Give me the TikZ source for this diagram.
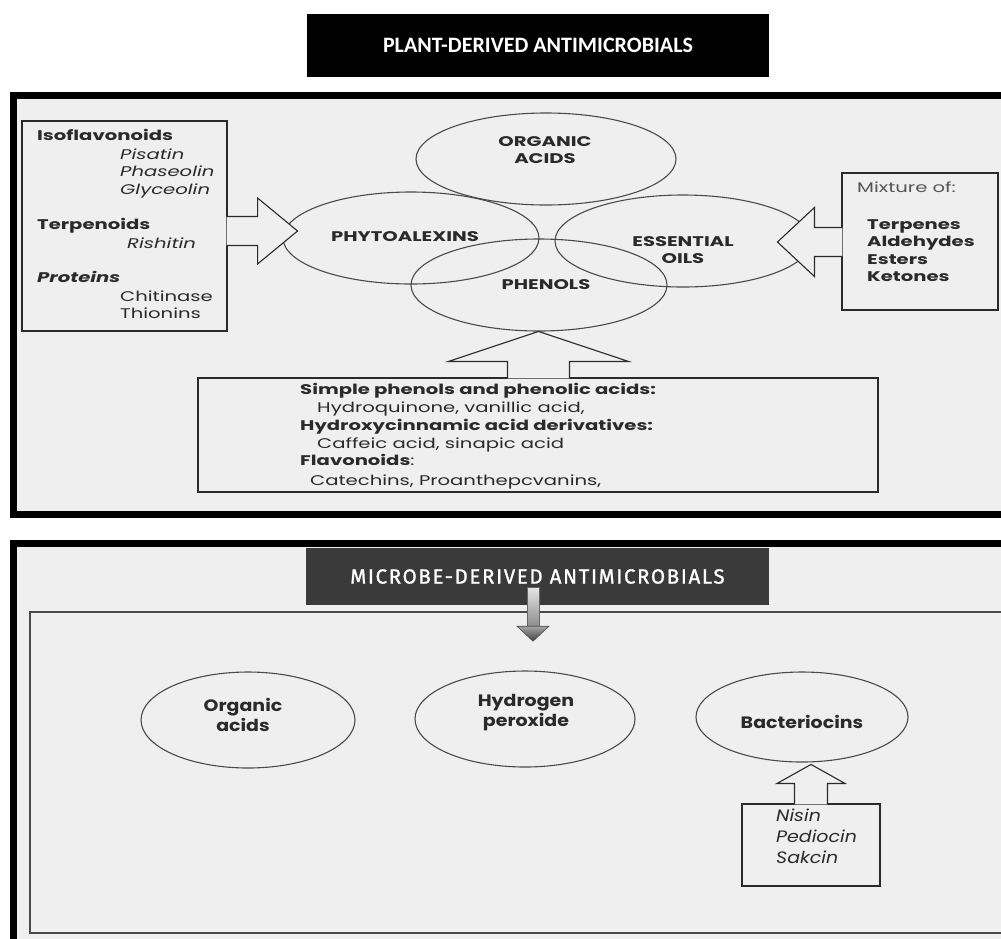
\documentclass[tikz,border=0pt]{standalone}
\usepackage{fontspec}
\usetikzlibrary{shapes.geometric,calc}
\newfontfamily\popA[FakeStretch=1.4]{Poppins}
\newfontfamily\popB[FakeStretch=1.15]{Poppins}
\newfontfamily\hdA{Carlito}
\newfontfamily\hdB[LetterSpace=8,FakeBold=1.2]{Fira Sans}
\definecolor{bgc}{HTML}{EFEFEF}
\definecolor{ink}{HTML}{2A2A2A}
\definecolor{lin}{HTML}{4A4A4A}
\definecolor{hdrgray}{HTML}{3A3A3A}
\definecolor{soft}{HTML}{555555}
\tikzset{
  thickframe/.style={draw=black, line width=7pt, fill=bgc},
  ell/.style={draw=lin, line width=1.1pt, ellipse, inner sep=0pt},
  boxst/.style={draw=ink, line width=1.1pt, fill=bgc, inner sep=0pt},
  arrowst/.style={draw=ink, line width=1.1pt, fill=bgc, line join=miter},
  ptxt/.style={inner sep=0pt, text=ink, font=\popA\fontsize{14}{17}\selectfont},
  ptxtb/.style={ptxt, font=\popA\bfseries\fontsize{14}{17}\selectfont},
  etxt/.style={inner sep=0pt, text=ink, align=center, font=\popA\bfseries\fontsize{14}{17}\selectfont},
  mtxt/.style={inner sep=0pt, text=ink, align=center, font=\popB\bfseries\fontsize{16.5}{20}\selectfont},
  mtxti/.style={inner sep=0pt, text=ink, font=\popB\itshape\fontsize{16.5}{20}\selectfont}
}
\begin{document}
\begin{tikzpicture}[x=1pt,y=-1pt]
\useasboundingbox (0,0) rectangle (1001,938);
\clip (0,0) rectangle (1001,938);
\fill[white] (0,0) rectangle (1001,938);

% ---------- plant header ----------
\node[fill=black, minimum width=462pt, minimum height=63pt, inner sep=0pt,
      text=white, font=\hdA\bfseries\fontsize{22}{26}\selectfont] (hdr1) at (538,45.5) {PLANT-DERIVED ANTIMICROBIALS};

% ---------- plant frame ----------
\draw[thickframe] (13.5,95.5) rectangle (1015,514.5);

% ellipses
\node[ell, minimum width=260pt, minimum height=92pt] (org) at (546,159) {};
\node[ell, minimum width=256pt, minimum height=92pt] (phy) at (411,238) {};
\node[ell, minimum width=256pt, minimum height=92pt] (phe) at (539,285) {};
\node[ell, minimum width=256pt, minimum height=92pt] (ess) at (683,241) {};

\node[etxt] (orgT) at (545,150.5) {ORGANIC\\ACIDS};
\node[etxt] (phyT) at (405,237) {PHYTOALEXINS};
\node[etxt] (pheT) at (546,285) {PHENOLS};
\node[etxt] (essT) at (683,250) {ESSENTIAL\\OILS};

% left box
\node[boxst, minimum width=205pt, minimum height=210pt] (lbox) at (124.5,226) {};
\draw[arrowst] ($(lbox.east)+(-1,-9.5)$) -- ++(31,0) -- ++(0,-18.5) -- ++(40,33) -- ++(-40,33) -- ++(0,-18.5) -- ++(-31,0);
\node[ptxtb, anchor=mid west] (iso) at (37,138) {Isoflavonoids};
\node[ptxt, anchor=mid west] (pis) at (120,157) {\itshape Pisatin};
\node[ptxt, anchor=mid west] (pha) at (120,174) {\itshape Phaseolin};
\node[ptxt, anchor=mid west] (gly) at (120,192) {\itshape Glyceolin};
\node[ptxtb, anchor=mid west] (ter) at (37,227) {Terpenoids};
\node[ptxt, anchor=mid west] (ris) at (127,246) {\itshape Rishitin};
\node[ptxtb, anchor=mid west] (pro) at (37,280) {\itshape Proteins};
\node[ptxt, anchor=mid west] (chi) at (120,299) {Chitinase};
\node[ptxt, anchor=mid west] (thi) at (120,316) {Thionins};

% right box
\node[boxst, minimum width=156pt, minimum height=137pt] (rbox) at (920,241.5) {};
\draw[arrowst] ($(rbox.west)+(1,-14)$) -- ++(-28,0) -- ++(0,-20) -- ++(-37,34.5) -- ++(37,34.5) -- ++(0,-20) -- ++(28,0);
\node[ptxt, anchor=mid west, text=soft] (mix) at (857,190) {Mixture of:};
\node[ptxtb, anchor=mid west] (tpn) at (867,227) {Terpenes};
\node[ptxtb, anchor=mid west] (ald) at (867,244) {Aldehydes};
\node[ptxtb, anchor=mid west] (est) at (867,262) {Esters};
\node[ptxtb, anchor=mid west] (ket) at (867,279) {Ketones};

% phenols box
\node[boxst, minimum width=680pt, minimum height=114pt] (pbox) at (538,435) {};
\draw[arrowst] ($(pbox.north)+(-30.5,1)$) -- ++(0,-17) -- ++(-59,0) -- ++(90,-30) -- ++(90,30) -- ++(-59,0) -- ++(0,17);
\node[ptxtb, anchor=mid west] (sp) at (300,392) {Simple phenols and phenolic acids:};
\node[ptxt, anchor=mid west] (hq) at (317,410) {Hydroquinone, vanillic acid,};
\node[ptxtb, anchor=mid west] (hc) at (300,428) {Hydroxycinnamic acid derivatives:};
\node[ptxt, anchor=mid west] (ca) at (317,446) {Caffeic acid, sinapic acid};
\node[ptxt, anchor=mid west] (fl) at (300,463) {\bfseries Flavonoids\mdseries:};
\node[ptxt, anchor=mid west] (ct) at (310,483) {Catechins, Proanthepcvanins,};

% ---------- microbe frame ----------
\draw[thickframe] (13.5,543.5) rectangle (1015,960);
\draw[draw=lin, line width=1.1pt] (30,612) rectangle (1015,933);

\node[fill=hdrgray, minimum width=463pt, minimum height=57pt, inner sep=0pt,
      text=white, font=\hdB\fontsize{20.5}{24}\selectfont] (hdr2) at (537.5,576.5) {MICROBE-DERIVED ANTIMICROBIALS};
\coordinate (ma) at ($(hdr2.south)+(-4.5,-18)$);
\shade[top color=black!10, bottom color=black!45, draw=black!60, line width=0.6pt] ($(ma)+(-6,0)$) rectangle ($(ma)+(6,39)$);
\shade[top color=black!35, bottom color=black!75, draw=black!70, line width=0.6pt] ($(ma)+(-16,39)$) -- ($(ma)+(16,39)$) -- ($(ma)+(0,54)$) -- cycle;

\node[ell, minimum width=214pt, minimum height=96pt] (oa) at (248,720) {};
\node[ell, minimum width=220pt, minimum height=96pt] (hp) at (525,719) {};
\node[ell, minimum width=212pt, minimum height=90pt] (bac) at (802,717) {};
\node[mtxt] (oaT) at (243,715) {Organic\\acids};
\node[mtxt] (hpT) at (526,713) {Hydrogen\\peroxide};
\node[mtxt] (bacT) at (802,722) {Bacteriocins};

\node[boxst, minimum width=138pt, minimum height=82pt] (sbox) at (811,845) {};
\draw[arrowst] ($(sbox.north)+(-16.5,1)$) -- ++(0,-21) -- ++(-17.5,0) -- ++(34,-19) -- ++(34,19) -- ++(-17.5,0) -- ++(0,21);
\node[mtxti, anchor=mid west] (nis) at (776,819) {Nisin};
\node[mtxti, anchor=mid west] (ped) at (776,840) {Pediocin};
\node[mtxti, anchor=mid west] (sak) at (776,861) {Sakcin};
\end{tikzpicture}
\end{document}
